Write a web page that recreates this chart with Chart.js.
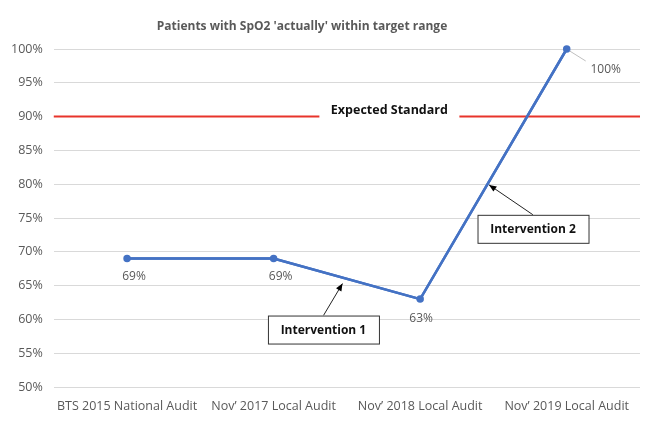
<!DOCTYPE html>
<html>
<head>
<meta charset="utf-8">
<script src="https://cdn.jsdelivr.net/npm/chart.js@4.4.0/dist/chart.umd.min.js"></script>
<style>
  html, body { margin: 0; padding: 0; background: #fff; }
  #wrap { width: 665px; height: 421px; }
</style>
</head>
<body>
<div id="wrap"><canvas id="chart"></canvas></div>
<script>
// chart data
const categories = ['BTS 2015 National Audit', 'Nov\u2019 2017 Local Audit', 'Nov\u2019 2018 Local Audit', 'Nov\u2019 2019 Local Audit'];
const withinTarget = [69, 69, 63, 100];
const expectedStandard = 90;
const yTicks = [50, 55, 60, 65, 70, 75, 80, 85, 90, 95, 100];

const FONT = '"Open Sans", Lato, sans-serif';
const GREY = '#595959';

// callouts placed in data space (x = category index, y = percent)
const callouts = [
  { text: 'Intervention 1', box: [1.34, 58.5], tip: [1.47, 65.3] },
  { text: 'Intervention 2', box: [2.77, 73.4], tip: [2.47, 79.9] }
];

const overlay = {
  id: 'overlay',
  afterDatasetsDraw(chart) {
    const { ctx, chartArea, scales: { x, y } } = chart;
    ctx.save();

    // title
    ctx.fillStyle = GREY;
    ctx.font = 'bold 12px ' + FONT;
    ctx.textAlign = 'center';
    ctx.textBaseline = 'middle';
    ctx.fillText("Patients with SpO2 'actually' within target range", 302, 27);

    // expected standard line
    const ys = y.getPixelForValue(expectedStandard);
    ctx.strokeStyle = '#E8342B';
    ctx.lineWidth = 2;
    ctx.beginPath();
    ctx.moveTo(chartArea.left, ys);
    ctx.lineTo(chartArea.right, ys);
    ctx.stroke();
    const lx = x.getPixelForValue(1.79);
    ctx.fillStyle = '#fff';
    ctx.fillRect(lx - 70, ys - 12, 140, 16);
    ctx.fillStyle = '#111';
    ctx.font = 'bold 12.5px ' + FONT;
    ctx.fillText('Expected Standard', lx, ys - 6);

    // redraw the series over the red line and white gap
    const meta = chart.getDatasetMeta(0);
    ctx.strokeStyle = '#4472C4';
    ctx.lineWidth = 2.5;
    ctx.beginPath();
    meta.data.forEach((p, i) => i ? ctx.lineTo(p.x, p.y) : ctx.moveTo(p.x, p.y));
    ctx.stroke();

    // data labels
    ctx.fillStyle = GREY;
    ctx.font = '12px ' + FONT;
    meta.data.forEach((p, i) => {
      const t = withinTarget[i] + '%';
      if (i === 3) {
        ctx.strokeStyle = '#bfbfbf';
        ctx.lineWidth = 1;
        ctx.beginPath();
        ctx.moveTo(p.x + 3, p.y + 2);
        ctx.lineTo(p.x + 19, p.y + 12);
        ctx.stroke();
        ctx.fillText(t, p.x + 39, p.y + 21);
      } else if (i === 2) {
        ctx.fillText(t, p.x + 1, p.y + 19);
      } else {
        ctx.fillText(t, p.x + 7, p.y + 18);
      }
    });

    // callouts
    callouts.forEach(c => {
      const bx = x.getPixelForValue(c.box[0]);
      const by = y.getPixelForValue(c.box[1]);
      const tx = x.getPixelForValue(c.tip[0]);
      const ty = y.getPixelForValue(c.tip[1]);
      const w = 111, h = 28;
      const sx = bx, sy = by - h / 2;
      ctx.strokeStyle = '#222';
      ctx.lineWidth = 1;
      ctx.beginPath();
      ctx.moveTo(sx, sy);
      ctx.lineTo(tx, ty);
      ctx.stroke();
      const ang = Math.atan2(ty - sy, tx - sx);
      ctx.fillStyle = '#000';
      ctx.beginPath();
      ctx.moveTo(tx, ty);
      ctx.lineTo(tx - 8 * Math.cos(ang - 0.4), ty - 8 * Math.sin(ang - 0.4));
      ctx.lineTo(tx - 8 * Math.cos(ang + 0.4), ty - 8 * Math.sin(ang + 0.4));
      ctx.closePath();
      ctx.fill();
      ctx.fillStyle = '#fff';
      ctx.fillRect(bx - w / 2, by - h / 2, w, h);
      ctx.strokeStyle = '#333';
      ctx.strokeRect(bx - w / 2 + 0.5, by - h / 2 + 0.5, w, h);
      ctx.fillStyle = '#111';
      ctx.font = 'bold 12px ' + FONT;
      ctx.fillText(c.text, bx, by + 1);
    });

    ctx.restore();
  }
};

new Chart(document.getElementById('chart'), {
  type: 'line',
  data: {
    labels: categories,
    datasets: [{
      data: withinTarget,
      borderColor: '#4472C4',
      backgroundColor: '#4472C4',
      borderWidth: 2.5,
      pointRadius: 2.5,
      pointHoverRadius: 2.5,
      tension: 0,
      clip: false
    }]
  },
  options: {
    responsive: true,
    maintainAspectRatio: false,
    animation: false,
    layout: { padding: { top: 49, right: 25, bottom: 3, left: 0 } },
    plugins: { legend: { display: false }, tooltip: { enabled: false } },
    scales: {
      x: {
        offset: true,
        grid: { display: false },
        border: { display: false },
        ticks: { color: GREY, font: { family: FONT, size: 12.5 }, maxRotation: 0, padding: 4 }
      },
      y: {
        min: 50,
        max: 100,
        afterBuildTicks: axis => { axis.ticks = yTicks.map(v => ({ value: v })); },
        grid: { color: '#d9d9d9', lineWidth: 1, drawTicks: false },
        border: { display: false },
        ticks: { color: GREY, font: { family: FONT, size: 12.5 }, padding: 11, callback: v => v + '%' }
      }
    }
  },
  plugins: [overlay]
});
</script>
</body>
</html>
